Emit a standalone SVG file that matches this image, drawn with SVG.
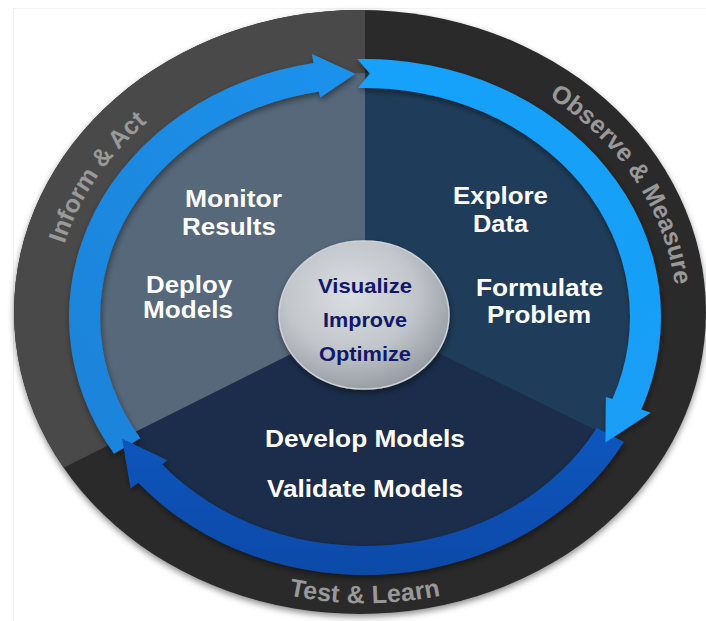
<svg xmlns="http://www.w3.org/2000/svg" width="706" height="621" viewBox="0 0 706 621">
  <style>
    .label{font-family:"Liberation Sans",Arial,Helvetica,sans-serif;font-weight:bold;fill:#ffffff;font-size:23px;text-anchor:middle}
    .hub{font-family:"Liberation Sans",Arial,Helvetica,sans-serif;font-weight:bold;fill:#10186a;font-size:20.5px;text-anchor:middle}
    .band{font-family:"Liberation Sans",Arial,Helvetica,sans-serif;font-weight:bold;fill:#999999;font-size:25px}
  </style>
  <defs>
    <clipPath id="disc"><ellipse cx="360" cy="312" rx="346" ry="302"/></clipPath>
    <clipPath id="inner"><ellipse cx="365" cy="317" rx="281" ry="244"/></clipPath>
    <radialGradient id="hubFill" cx="0.42" cy="0.36" r="0.7">
      <stop offset="0" stop-color="#dadde1"/>
      <stop offset="0.55" stop-color="#c2c6cb"/>
      <stop offset="1" stop-color="#8f959c"/>
    </radialGradient>
    <linearGradient id="arrowLight" x1="0" y1="1" x2="1" y2="0">
      <stop offset="0" stop-color="#1a82d8"/>
      <stop offset="1" stop-color="#1e92ec"/>
    </linearGradient>
    <linearGradient id="arrowBright" x1="0" y1="0" x2="1" y2="1">
      <stop offset="0" stop-color="#16a2fb"/>
      <stop offset="1" stop-color="#1a9ef5"/>
    </linearGradient>
    <linearGradient id="arrowDark" x1="0" y1="0" x2="0" y2="1">
      <stop offset="0" stop-color="#0e56bd"/>
      <stop offset="1" stop-color="#0a4aa8"/>
    </linearGradient>
    <filter id="dropShadow" x="-10%" y="-10%" width="120%" height="130%">
      <feDropShadow dx="1" dy="3" stdDeviation="3" flood-color="#000000" flood-opacity="0.45"/>
    </filter>
    <filter id="discShadow" x="-5%" y="-5%" width="110%" height="112%">
      <feDropShadow dx="0" dy="3" stdDeviation="3" flood-color="#000000" flood-opacity="0.45"/>
    </filter>
    <!-- baselines for the curved band captions -->
    <path id="pathInform" d="M 53 317 A 312 272 0 0 1 209 81.4"/>
    <path id="pathObserve" d="M 521 81.4 A 312 272 0 0 1 677 317"/>
    <path id="pathTest" d="M 175.7 551.5 A 330 286 0 0 0 554.3 551.5"/>
  </defs>

  <rect width="706" height="621" fill="#ffffff"/>
  <rect x="13.5" y="8.5" width="700" height="620" fill="none" stroke="#f3f3f3"/>

  <!-- outer band -->
  <g id="outer-band">
    <ellipse cx="360" cy="312" rx="346" ry="302" fill="#2b2b2b" filter="url(#discShadow)"/>
    <g clip-path="url(#disc)">
      <polygon points="365,317 365,0 0,0 0,499.5" fill="#494949"/>
    </g>
  </g>

  <!-- inner sectors -->
  <g id="sectors" clip-path="url(#inner)">
    <rect x="0" y="0" width="706" height="621" fill="#1b2d4a"/>
    <polygon points="365,317 365,0 0,0 0,499.5" fill="#56687a"/>
    <polygon points="365,317 365,0 706,0 706,484" fill="#1f3d5a"/>
  </g>

  <!-- cycle arrows -->
  <g id="connectors" filter="url(#dropShadow)">
    <path id="arrow-inform" fill="url(#arrowLight)" d="M 114.0 453.7 A 296 258 0 0 1 313.6 62.9 L 311.9 54.1 L 355.2 73.7 L 320.2 97.4 L 319.0 91.5 A 265 229 0 0 0 140.3 438.3 Z"/>
    <path id="arrow-test" fill="url(#arrowDark)" d="M 623.9 442.1 A 296 258 0 0 1 138.3 482.8 L 130.6 488.6 L 122.1 438.75 L 167.4 460.3 L 162.0 464.2 A 265 229 0 0 0 596.8 428.0 Z"/>
    <path id="arrow-observe" fill="url(#arrowBright)" d="M 357.25 59.1 A 296 258 0 0 1 641.3 409.5 L 650.7 412.7 L 605.4 442.4 L 605.9 396.9 L 612.4 399.1 A 265 229 0 0 0 358.06 88.1 L 369.9 73.5 Z"/>
  </g>

  <!-- band captions -->
  <g id="band-inform">
    <text class="band"><textPath href="#pathInform" startOffset="50%" text-anchor="middle">Inform &amp; Act</textPath></text>
  </g>
  <g id="band-observe">
    <text class="band"><textPath href="#pathObserve" startOffset="50%" text-anchor="middle">Observe &amp; Measure</textPath></text>
  </g>
  <g id="band-test">
    <text class="band" font-size="27" fill="#a6a6a6" letter-spacing="0.3"><textPath href="#pathTest" startOffset="50%" text-anchor="middle">Test &amp; Learn</textPath></text>
  </g>

  <!-- sector labels -->
  <g id="monitor-results">
    <text class="label" x="233.5" y="207.3" textLength="97" lengthAdjust="spacingAndGlyphs">Monitor</text>
    <text class="label" x="229" y="235" textLength="94" lengthAdjust="spacingAndGlyphs">Results</text>
  </g>
  <g id="deploy-models">
    <text class="label" x="189" y="292.7" textLength="86" lengthAdjust="spacingAndGlyphs">Deploy</text>
    <text class="label" x="188" y="318.3" textLength="90" lengthAdjust="spacingAndGlyphs">Models</text>
  </g>
  <g id="explore-data">
    <text class="label" x="500.5" y="204" textLength="95" lengthAdjust="spacingAndGlyphs">Explore</text>
    <text class="label" x="500.5" y="232" textLength="55" lengthAdjust="spacingAndGlyphs">Data</text>
  </g>
  <g id="formulate-problem">
    <text class="label" x="539.5" y="296" textLength="127" lengthAdjust="spacingAndGlyphs">Formulate</text>
    <text class="label" x="539" y="323" textLength="104" lengthAdjust="spacingAndGlyphs">Problem</text>
  </g>
  <g id="develop-validate">
    <text class="label" x="365" y="447" textLength="200" lengthAdjust="spacingAndGlyphs">Develop Models</text>
    <text class="label" x="365" y="497" textLength="196" lengthAdjust="spacingAndGlyphs">Validate Models</text>
  </g>

  <!-- central hub -->
  <g id="hub">
    <ellipse cx="364" cy="315" rx="85" ry="74" fill="url(#hubFill)" stroke="#cfd2d6" stroke-width="1.5" filter="url(#dropShadow)"/>
    <text class="hub" x="365" y="292.7" textLength="94" lengthAdjust="spacingAndGlyphs">Visualize</text>
    <text class="hub" x="365" y="327" textLength="84" lengthAdjust="spacingAndGlyphs">Improve</text>
    <text class="hub" x="365" y="360.7" textLength="92" lengthAdjust="spacingAndGlyphs">Optimize</text>
  </g>
</svg>
